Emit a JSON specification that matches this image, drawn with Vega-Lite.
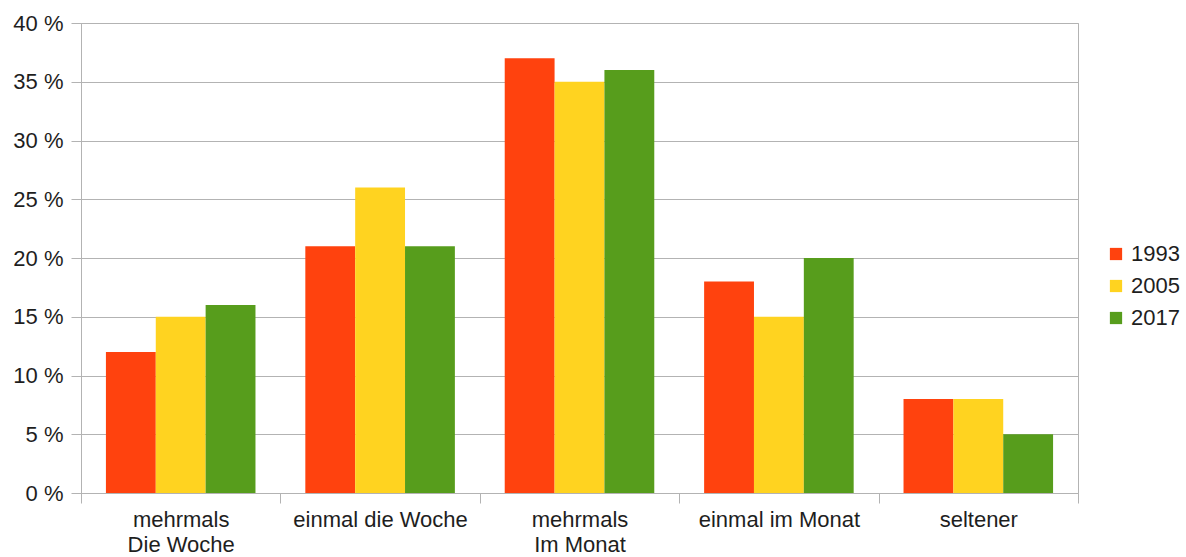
{
  "$schema": "https://vega.github.io/schema/vega-lite/v6.json",
  "autosize": {"type": "none"},
  "padding": {"left": 81, "top": 23, "right": 108, "bottom": 64},
  "width": 997,
  "height": 470,
  "background": "white",
  "config": {
    "font": "Liberation Sans",
    "view": {"stroke": "#b3b3b3", "strokeWidth": 1},
    "axis": {
      "domainColor": "#b3b3b3",
      "tickColor": "#b3b3b3",
      "gridColor": "#b3b3b3",
      "labelColor": "#1e1e1e",
      "labelFont": "Liberation Sans",
      "labelFontSize": 22,
      "tickSize": 10,
      "title": null
    }
  },
  "data": {
    "values": [
      {"cat": "mehrmals|Die Woche", "year": "1993", "value": 12},
      {"cat": "mehrmals|Die Woche", "year": "2005", "value": 15},
      {"cat": "mehrmals|Die Woche", "year": "2017", "value": 16},
      {"cat": "einmal die Woche", "year": "1993", "value": 21},
      {"cat": "einmal die Woche", "year": "2005", "value": 26},
      {"cat": "einmal die Woche", "year": "2017", "value": 21},
      {"cat": "mehrmals|Im Monat", "year": "1993", "value": 37},
      {"cat": "mehrmals|Im Monat", "year": "2005", "value": 35},
      {"cat": "mehrmals|Im Monat", "year": "2017", "value": 36},
      {"cat": "einmal im Monat", "year": "1993", "value": 18},
      {"cat": "einmal im Monat", "year": "2005", "value": 15},
      {"cat": "einmal im Monat", "year": "2017", "value": 20},
      {"cat": "seltener", "year": "1993", "value": 8},
      {"cat": "seltener", "year": "2005", "value": 8},
      {"cat": "seltener", "year": "2017", "value": 5}
    ]
  },
  "mark": {"type": "bar"},
  "encoding": {
    "x": {
      "field": "cat",
      "type": "nominal",
      "sort": null,
      "scale": {"paddingInner": 0, "paddingOuter": 0},
      "axis": {
        "labelAngle": 0,
        "tickBand": "extent",
        "grid": false,
        "labelPadding": 6,
        "labelLineHeight": 25,
        "labelExpr": "isValid(datum.value) ? split(datum.value, '|') : ''"
      }
    },
    "xOffset": {
      "field": "year",
      "type": "nominal",
      "scale": {"paddingInner": 0, "paddingOuter": 0.5}
    },
    "y": {
      "field": "value",
      "type": "quantitative",
      "scale": {"domain": [0, 40], "nice": false},
      "axis": {
        "values": [0, 5, 10, 15, 20, 25, 30, 35, 40],
        "labelExpr": "datum.value + ' %'",
        "labelPadding": 8,
        "grid": true
      }
    },
    "color": {
      "field": "year",
      "type": "nominal",
      "scale": {"domain": ["1993", "2005", "2017"], "range": ["#ff420e", "#ffd320", "#579d1c"]},
      "legend": {
        "title": null,
        "orient": "none",
        "legendX": 1024,
        "legendY": 220,
        "symbolType": "square",
        "symbolSize": 150,
        "symbolStrokeWidth": 0,
        "symbolOpacity": 1,
        "labelFontSize": 22,
        "labelColor": "#1e1e1e",
        "labelFont": "Liberation Sans",
        "rowPadding": 10,
        "labelOffset": 4
      }
    }
  }
}
